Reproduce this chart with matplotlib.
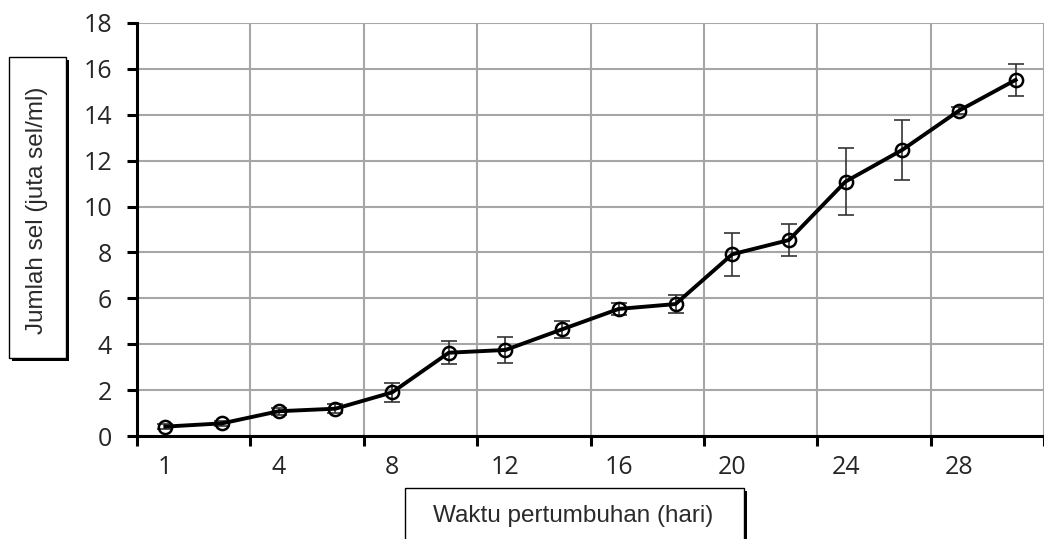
import matplotlib.pyplot as plt
from matplotlib.patches import Rectangle
import numpy as np

# data
hari = ["1", "2", "4", "6", "8", "10", "12", "14", "16", "18", "20", "22", "24", "26", "28", "30"]
jumlah_sel = [0.41, 0.55, 1.08, 1.19, 1.90, 3.63, 3.75, 4.65, 5.54, 5.75, 7.92, 8.54, 11.09, 12.47, 14.18, 15.52]
galat = [0.10, 0.10, 0.15, 0.20, 0.40, 0.50, 0.55, 0.38, 0.25, 0.40, 0.93, 0.70, 1.47, 1.30, 0.15, 0.70]
label_hari = ["1", "4", "8", "12", "16", "20", "24", "28"]

x = np.arange(len(hari))

fig = plt.figure(figsize=(10.44, 5.39), dpi=100)
ax = fig.add_axes([137 / 1044, 1 - 436 / 539, 907 / 1044, 413 / 539])

ax.errorbar(x, jumlah_sel, yerr=galat, fmt="none", ecolor="#333333",
            elinewidth=1.2, capsize=6, capthick=1.2, zorder=3)
ax.plot(x, jumlah_sel, color="black", linewidth=2.8, marker="o",
        markersize=9.5, markerfacecolor="none", markeredgecolor="black",
        markeredgewidth=1.8, zorder=4)

ax.set_ylim(0, 18)
ax.set_yticks(range(0, 19, 2))
ax.set_xlim(-0.5, -0.5 + 907 / 57.15)

# gridline ticks between categories, labels on every second point
ax.set_xticks(np.arange(-0.5, 16, 2))
ax.set_xticklabels([])
ax.set_xticks(np.arange(0, 16, 2), minor=True)
ax.set_xticklabels(label_hari, minor=True)

ax.grid(True, which="major", color="#a6a6a6", linewidth=1.5)
ax.set_axisbelow(True)

for s in ["top", "right"]:
    ax.spines[s].set_visible(False)
for s in ["left", "bottom"]:
    ax.spines[s].set_linewidth(2.2)

ax.tick_params(axis="both", which="major", direction="out", length=7, width=2.2,
               labelsize=18, labelcolor="#262626", pad=11, color="black")
ax.tick_params(axis="x", which="minor", length=0, labelsize=18,
               labelcolor="#262626", pad=14)
for lab in ax.get_yticklabels() + ax.get_xticklabels(minor=True):
    lab.set_fontfamily("Open Sans")

# axis title boxes
def kotak(x0, y0, w, h):
    W, H = 1044, 539
    fig.patches.append(Rectangle(((x0 + 3) / W, 1 - (y0 + h + 3) / H), w / W, h / H,
                                 transform=fig.transFigure, facecolor="black",
                                 edgecolor="none", zorder=1))
    fig.patches.append(Rectangle((x0 / W, 1 - (y0 + h) / H), w / W, h / H,
                                 transform=fig.transFigure, facecolor="white",
                                 edgecolor="black", linewidth=1, zorder=2))

kotak(9, 57, 57, 301)
fig.text(37 / 1044, 1 - 210 / 539, "Jumlah sel (juta sel/ml)", rotation=90,
         ha="center", va="center", fontsize=17.5, color="#2a2a2a",
         family="Liberation Sans", zorder=3)

kotak(405, 488, 339, 70)
fig.text(573 / 1044, 1 - 516 / 539, "Waktu pertumbuhan (hari)",
         ha="center", va="center", fontsize=17.5, color="#2a2a2a",
         family="Liberation Sans", zorder=3)

fig.savefig("out.png", dpi=100)
